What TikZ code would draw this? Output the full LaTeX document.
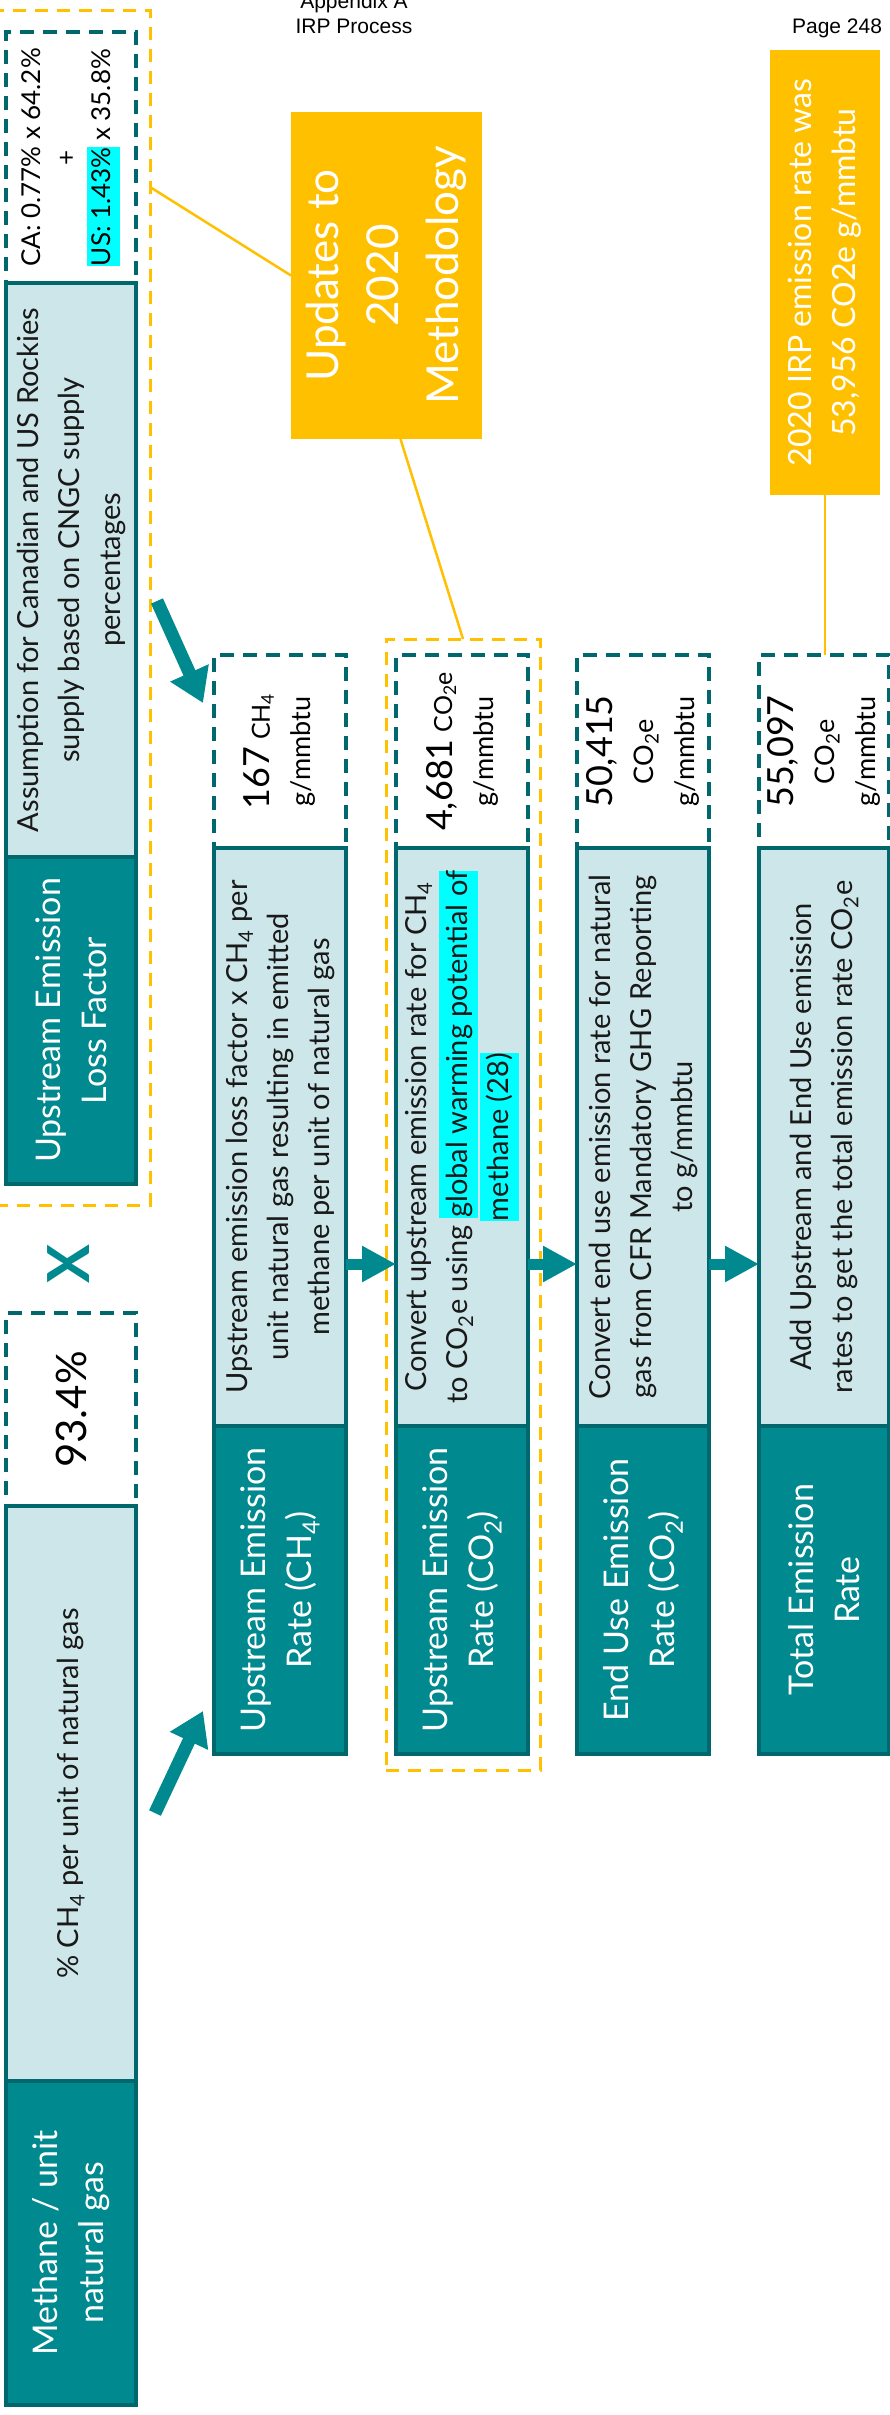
\documentclass[tikz,border=0pt]{standalone}
\usepackage{fontspec}
\setmainfont{Lato}
\newfontfamily\arialf{Liberation Sans}
\usetikzlibrary{arrows.meta,calc}
\definecolor{tealdark}{HTML}{00898F}
\definecolor{tealedge}{HTML}{00686C}
\definecolor{teallight}{HTML}{CDE6E9}
\definecolor{gold}{HTML}{FFC000}
\definecolor{hlcyan}{HTML}{00FFFF}
\newcommand\hlc[1]{{\setlength\fboxsep{0pt}\colorbox{hlcyan}{\rule[-0.27\baselineskip]{0pt}{0.96\baselineskip}#1}}}
\begin{document}
\begin{tikzpicture}[x=1pt,y=-1pt,
 every node/.style={inner sep=0pt, outer sep=0pt},
 valbox/.style={draw=tealedge, line width=3.5pt, dash pattern=on 14pt off 9pt, fill=white},
 descbox/.style={draw=tealedge, line width=3.5pt, fill=teallight},
 titlebox/.style={draw=tealedge, line width=3.5pt, fill=tealdark},
 goldframe/.style={draw=gold, line width=3pt, dash pattern=on 13pt off 9pt},
 calloutbox/.style={fill=gold},
 goldline/.style={draw=gold, line width=2.5pt},
 rtext/.style={rotate=90, align=center},
 desctext/.style={rtext, text=black!90, font=\fontsize{29}{41}\selectfont},
 titletext/.style={rtext, text=white, font=\fontsize{34}{46}\selectfont},
 valtext/.style={rtext, text=black, font=\fontsize{27}{41}\selectfont},
 callouttext/.style={rtext, text=white},
 harrow/.style={draw=tealdark, line width=11pt, -{Triangle[length=34pt,width=34pt]}},
 darrow/.style={draw=tealdark, line width=13pt, -{Triangle[length=33pt,width=40pt]}},
 hdr/.style={font=\arialf\fontsize{21}{24}\selectfont, text=black},
]
\fill[white] (0,0) rectangle (889,2415);
\useasboundingbox (0,0) rectangle (889,2415);

% header
\node[hdr, anchor=base] (hdA) at (354,8) {Appendix A};
\node[hdr, anchor=base] (hdB) at (354,33) {IRP Process};
\node[hdr, anchor=base east] (hdC) at (882,33) {Page 248};

% gold dashed frames
\node[goldframe, minimum width=155pt, minimum height=1195pt] (Y1) at (72.5,607.5) {};
\node[goldframe, minimum width=154pt, minimum height=1131pt] (Y3) at (463,1204.5) {};

% column 1 top
\node[valbox, minimum width=130pt, minimum height=251pt] (V1) at (71,157.5) {};
\node[descbox, minimum width=130pt, minimum height=574pt] (L1) at (71,570) {};
\node[titlebox, minimum width=130pt, minimum height=327pt] (D1) at (71,1020.5) {};
\node[valtext, font=\fontsize{26}{35}\selectfont] (V1t) at (V1) {CA: 0.77\% x 64.2\%\\+\\\hlc{US: 1.43\%} x 35.8\%};
\node[desctext] (L1t) at (L1) {Assumption for Canadian and US Rockies\\supply based on CNGC supply\\percentages};
\node[titletext] (D1t) at (D1) {Upstream Emission\\Loss Factor};

% column 1 bottom
\node[valbox, minimum width=130pt, minimum height=193pt] (V0) at (71,1409.5) {};
\node[descbox, minimum width=130pt, minimum height=575pt] (L0) at (71,1793.5) {};
\node[titlebox, minimum width=130pt, minimum height=324pt] (D0) at (71,2243) {};
\node[valtext, font=\fontsize{42}{46}\selectfont] (V0t) at (V0) {93.4\%};
\node[desctext] (L0t) at (L0) {\% CH\textsubscript{4} per unit of natural gas};
\node[titletext] (D0t) at (D0) {Methane / unit\\natural gas};

% multiply sign
\node[rotate=90, text=tealdark, font=\fontsize{58}{60}\selectfont\bfseries] (xm) at (69,1264) {X};

% column 2
\node[valbox, minimum width=132pt, minimum height=193pt] (V2) at (280,751.5) {};
\node[descbox, minimum width=132pt, minimum height=578pt] (L2) at (280,1137) {};
\node[titlebox, minimum width=132pt, minimum height=328pt] (D2) at (280,1590) {};
\node[valtext] (V2t) at (V2) {{\fontsize{36}{41}\selectfont 167} {\fontsize{25}{41}\selectfont CH\textsubscript{4}}\\g/mmbtu};
\node[desctext] (L2t) at (L2) {Upstream emission loss factor x CH\textsubscript{4} per\\unit natural gas resulting in emitted\\methane per unit of natural gas};
\node[titletext] (D2t) at (D2) {Upstream Emission\\Rate (CH\textsubscript{4})};

% column 3
\node[valbox, minimum width=132pt, minimum height=193pt] (V3) at (462,751.5) {};
\node[descbox, minimum width=132pt, minimum height=578pt] (L3) at (462,1137) {};
\node[titlebox, minimum width=132pt, minimum height=328pt] (D3) at (462,1590) {};
\node[valtext] (V3t) at (V3) {{\fontsize{36}{41}\selectfont 4,681} {\fontsize{25}{41}\selectfont CO\textsubscript{2}e}\\g/mmbtu};
\node[desctext] (L3t) at (L3) {Convert upstream emission rate for CH\textsubscript{4}\\to CO\textsubscript{2}e using \hlc{global warming potential of}\\\hlc{methane (28)}};
\node[titletext] (D3t) at (D3) {Upstream Emission\\Rate (CO\textsubscript{2})};

% column 4
\node[valbox, minimum width=132pt, minimum height=193pt] (V4) at (643,751.5) {};
\node[descbox, minimum width=132pt, minimum height=578pt] (L4) at (643,1137) {};
\node[titlebox, minimum width=132pt, minimum height=328pt] (D4) at (643,1590) {};
\node[valtext] (V4t) at (V4) {{\fontsize{36}{41}\selectfont 50,415}\\CO\textsubscript{2}e\\g/mmbtu};
\node[desctext] (L4t) at (L4) {Convert end use emission rate for natural\\gas from CFR Mandatory GHG Reporting\\to g/mmbtu};
\node[titletext] (D4t) at (D4) {End Use Emission\\Rate (CO\textsubscript{2})};

% column 5
\node[valbox, minimum width=130pt, minimum height=193pt] (V5) at (824,751.5) {};
\node[descbox, minimum width=130pt, minimum height=578pt] (L5) at (824,1137) {};
\node[titlebox, minimum width=130pt, minimum height=328pt] (D5) at (824,1590) {};
\node[valtext] (V5t) at (V5) {{\fontsize{36}{41}\selectfont 55,097}\\CO\textsubscript{2}e\\g/mmbtu};
\node[desctext] (L5t) at (L5) {Add Upstream and End Use emission\\rates to get the total emission rate CO\textsubscript{2}e};
\node[titletext] (D5t) at (D5) {Total Emission\\Rate};

% callouts
\node[calloutbox, minimum width=191pt, minimum height=327pt] (U) at (386.5,275.5) {};
\node[callouttext, font=\fontsize{44}{60}\selectfont] (Ut) at (U) {Updates to\\2020\\Methodology};
\node[calloutbox, minimum width=110pt, minimum height=445pt] (P) at (825,272.5) {};
\node[callouttext, font=\fontsize{32}{44}\selectfont] (Pt) at (P) {2020 IRP emission rate was\\53,956 CO2e g/mmbtu};

\draw[goldline] ([yshift=-177pt]Y1.north east) -- (U.west);
\draw[goldline] ([xshift=14pt]U.south) -- (Y3.north);
\draw[goldline] (P.south) -- (P.south |- V5.north);

% horizontal arrows
\draw[harrow] ([yshift=-127pt]L2.east) -- ([yshift=-127pt]L3.west);
\draw[harrow] ([yshift=-127pt]L3.east) -- ([yshift=-127pt]L4.west);
\draw[harrow] ([yshift=-127pt]L4.east) -- ([yshift=-127pt]L5.west);

% diagonal arrows
\coordinate (a1s) at (157,601);
\coordinate (a1e) at (203,703);
\coordinate (a2s) at (155,1813);
\coordinate (a2e) at (203,1711);
\draw[darrow] (a1s) -- (a1e);
\draw[darrow] (a2s) -- (a2e);
\end{tikzpicture}
\end{document}
